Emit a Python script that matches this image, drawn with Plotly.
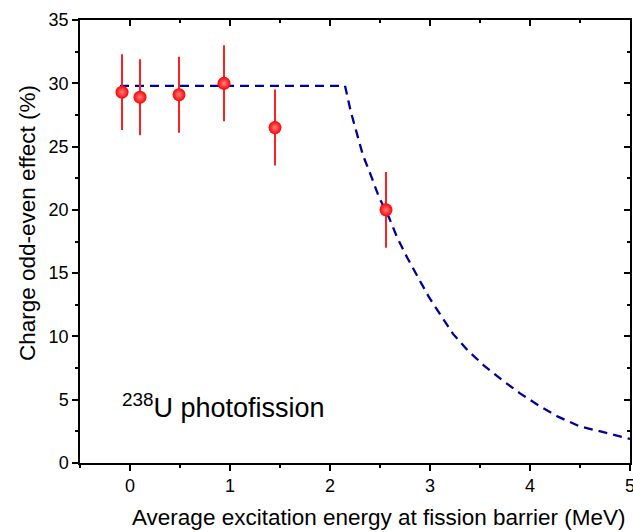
import plotly.graph_objects as go

# Data
energy = [-0.08, 0.10, 0.49, 0.94, 1.45, 2.56]
oe_effect = [29.3, 28.9, 29.1, 30.0, 26.5, 20.0]
oe_error = [3.0, 3.0, 3.0, 3.0, 3.0, 3.0]

curve_x = [-0.1, 2.15, 2.21, 2.27, 2.33, 2.41, 2.49, 2.59, 2.67, 2.77, 2.88, 2.99, 3.11,
           3.23, 3.38, 3.54, 3.72, 3.90, 4.09, 4.28, 4.49, 4.71, 4.93, 5.0]
curve_y = [29.8, 29.8, 27.7, 26.0, 24.3, 22.7, 21.0, 19.4, 17.85, 16.25, 14.7, 13.1, 11.65,
           10.2, 8.87, 7.7, 6.56, 5.5, 4.53, 3.66, 2.92, 2.47, 2.0, 1.9]

x_range = [-0.5, 5]
y_range = [0, 35]

x_title = "Average excitation energy at fission barrier (MeV)"
y_title = "Charge odd-even effect (%)"
label_text = "<sup>238</sup>U photofission"

fig = go.Figure()
fig.add_trace(go.Scatter(
    x=curve_x, y=curve_y, mode="lines",
    line=dict(color="#0000A0", width=2.3, dash="9px,6px"),
    showlegend=False, hoverinfo="skip"))
fig.add_trace(go.Scatter(
    x=energy, y=oe_effect, mode="markers",
    error_y=dict(type="data", array=oe_error, color="#FF2020", thickness=2, width=0),
    marker=dict(size=13, color="#FF0000",
                gradient=dict(type="radial", color="#FF8080"),
                line=dict(width=0)),
    showlegend=False))
# invisible trace for mirrored axes
fig.add_trace(go.Scatter(x=x_range, y=y_range, xaxis="x2", yaxis="y2",
                         mode="markers", marker=dict(opacity=0), showlegend=False,
                         hoverinfo="skip"))

font_family = "Liberation Sans, Arial, sans-serif"
fig.update_layout(
    width=633, height=532,
    margin=dict(l=80, r=3, t=20, b=69, autoexpand=False),
    paper_bgcolor="white", plot_bgcolor="white",
    font=dict(family=font_family, color="black", size=18),
    xaxis=dict(range=x_range, tickmode="array", tickvals=[0, 1, 2, 3, 4, 5],
               ticks="outside", ticklen=6, tickwidth=1.5, tickcolor="black",
               minor=dict(ticks="outside", ticklen=3, tickwidth=1.5, dtick=0.5, tick0=0, tickcolor="black"),
               showline=True, linecolor="black", linewidth=1.5, showgrid=False, zeroline=False,
               tickfont=dict(size=18), ticklabeloverflow="allow", automargin=False),
    yaxis=dict(range=y_range, tickmode="array", tickvals=[0, 5, 10, 15, 20, 25, 30, 35],
               ticks="outside", ticklen=6, tickwidth=1.5, tickcolor="black",
               minor=dict(ticks="outside", ticklen=3, tickwidth=1.5, dtick=2.5, tick0=0, tickcolor="black"),
               showline=True, linecolor="black", linewidth=1.5, showgrid=False, zeroline=False,
               tickfont=dict(size=18), ticklabeloverflow="allow", automargin=False),
    xaxis2=dict(range=x_range, overlaying="x", side="top", tickvals=[0, 1, 2, 3, 4, 5],
                ticks="inside", ticklen=6, tickwidth=1.5, tickcolor="black",
                minor=dict(ticks="inside", ticklen=3, tickwidth=1.5, dtick=0.5, tick0=0, tickcolor="black"),
                showticklabels=False, showline=True, linecolor="black", linewidth=1.5,
                showgrid=False, zeroline=False, automargin=False),
    yaxis2=dict(range=y_range, overlaying="y", side="right", tickvals=[0, 5, 10, 15, 20, 25, 30, 35],
                ticks="inside", ticklen=6, tickwidth=1.5, tickcolor="black",
                minor=dict(ticks="inside", ticklen=3, tickwidth=1.5, dtick=2.5, tick0=0, tickcolor="black"),
                showticklabels=False, showline=True, linecolor="black", linewidth=1.5,
                showgrid=False, zeroline=False, automargin=False),
    annotations=[
        dict(text=label_text, x=-0.1, y=4.5, xref="x", yref="y",
             xanchor="left", yanchor="middle", showarrow=False, font=dict(size=27)),
        dict(text=x_title, x=(379 - 80) / 550, y=(463 - 517) / 443, xref="paper", yref="paper",
             xanchor="center", yanchor="middle", showarrow=False, font=dict(size=22.5)),
        dict(text=y_title, x=(28 - 80) / 550, y=(463 - 223) / 443, xref="paper", yref="paper",
             xanchor="center", yanchor="middle", showarrow=False, textangle=-90,
             font=dict(size=22.5)),
    ],
)

fig.write_html("out.html")
